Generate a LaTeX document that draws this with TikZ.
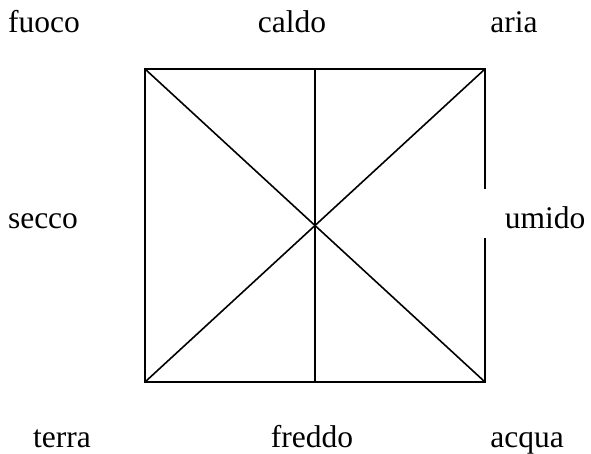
\documentclass[tikz,border=0pt]{standalone}
\usepackage{fontspec}
\setmainfont{Liberation Serif}
\usepackage{tikz}
\usetikzlibrary{positioning}
\tikzset{
  lbl/.style={anchor=base,inner sep=0pt,font=\fontsize{31.5}{36}\selectfont},
  ln/.style={line width=1.6pt,black}
}
\begin{document}
\begin{tikzpicture}[x=1pt,y=-1pt]
\useasboundingbox (0,0) rectangle (591,453);
% corners of the square
\coordinate (tl) at (145,69);
\coordinate (tr) at (485,69);
\coordinate (bl) at (145,382);
\coordinate (br) at (485,382);
\coordinate (tm) at (315,69);
\coordinate (bm) at (315,382);
\coordinate (ga) at (485,189);
\coordinate (gb) at (485,238);
% labels
\node[lbl] (fuoco) at (44,32) {fuoco};
\node[lbl] (caldo) at (292,32) {caldo};
\node[lbl] (aria) at (514,32) {aria};
\node[lbl] (secco) at (43,228) {secco};
\node[lbl] (umido) at (545,228) {umido};
\node[lbl] (terra) at (62,447) {terra};
\node[lbl] (freddo) at (312,447) {freddo};
\node[lbl] (acqua) at (527,447) {acqua};
% square and diagonals
\draw[ln] (ga) -- (tr) -- (tl) -- (bl) -- (br) -- (gb);
\draw[ln] (tm) -- (bm);
\draw[ln] (tl) -- (br);
\draw[ln] (bl) -- (tr);
\end{tikzpicture}
\end{document}
